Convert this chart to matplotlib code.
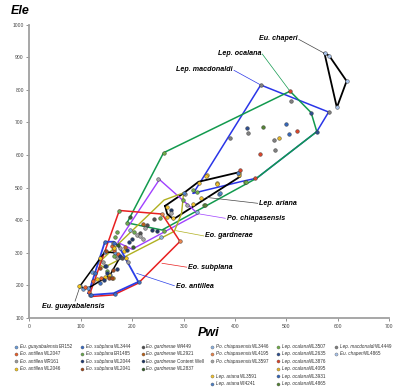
import matplotlib
matplotlib.use("Agg")
import matplotlib.pyplot as plt

plt.rcParams['font.family'] = ['Liberation Sans', 'DejaVu Sans']

# sample series (legend order)
series_species = ["Eu. guayabalensis", "Eo. antillea", "Eo. antillea", "Eo. antillea",
                  "Eo. subplana", "Eo. subplana", "Eo. subplana", "Eo. subplana",
                  "Eo. gardnerae", "Eo. gardnerae", "Eo. gardnerae", "Eo. gardnerae",
                  "Po. chiapasensis", "Po. chiapasensis", "Po. chiapasensis",
                  "Lep. ariana", "Lep. ariana",
                  "Lep. ocalana", "Lep. ocalana", "Lep. ocalana", "Lep. ocalana", "Lep. ocalana", "Lep. ocalana",
                  "Lep. macdonaldi", "Eu. chaperi"]
series_ids = ["ER152", "WL2047", "WR161", "WL2046",
              "WL3444", "ER1485", "WL2044", "WL2041",
              "W4449", "WL2921", "Content Well", "WL2837",
              "WL3446", "WL4195", "WL3597",
              "WL3591", "WI4241",
              "WL3507", "WL2635", "WL3876", "WL4095", "WL3931", "WL4865",
              "WL4449", "WL4865"]
series_colors = ["#6a9bd8", "#e8602c", "#9a9a9a", "#f5c518",
                 "#3a6cc4", "#6aa84f", "#1f3a73", "#a0481c",
                 "#505050", "#b8621b", "#203864", "#375f2b",
                 "#8db3e2", "#e9854d", "#a6a6a6",
                 "#f2c230", "#4f81c7",
                 "#70ad47", "#2e4f8f", "#d9452b", "#e4b52a", "#3566b8", "#548235",
                 "#7f7f7f", "#a9c4eb"]
series_pwi = [[99, 105, 115, 121, 147, 157, 167, 177],
              [108, 117, 124.5, 140, 160, 165, 173],
              [143, 170, 191, 176, 163.5],
              [97.5, 131, 137.5, 147, 154, 163.5, 164, 188, 184],
              [118, 119, 137.5, 128, 149, 167, 214, 147, 165],
              [175, 189.5, 167, 171, 203, 152, 165],
              [145, 152, 170, 176.5, 189, 193, 147],
              [137.5, 155, 160, 163.5, 150],
              [228, 180, 243, 215],
              [221, 186],
              [238, 248, 276, 199],
              [196, 173, 201],
              [256, 196, 326],
              [293, 258],
              [251, 222, 210, 216, 306, 275, 225, 303],
              [267, 280, 319, 329, 334, 345, 364, 344, 365, 407, 408],
              [369, 370, 405, 300],
              [261, 254, 261, 298, 319, 326, 420, 421, 340],
              [548, 559, 423],
              [507, 449, 410, 439, 520],
              [486, 267],
              [499, 504],
              [454, 342],
              [450, 509, 582, 425, 390, 475, 478],
              [574, 583, 617, 598]]
series_ele = [[199, 190, 192, 242, 303, 232, 300, 288],
              [196, 181, 214, 222, 321, 309, 296],
              [273, 283, 271, 314, 331],
              [198, 219, 283, 227, 232, 222, 316, 283, 306],
              [170, 171, 208, 237, 260, 174, 211, 334, 331],
              [429, 392, 349, 365, 365, 245, 290],
              [217, 237, 249, 290, 309, 334, 261],
              [252, 222, 222, 247, 306],
              [385, 283, 403, 362],
              [388, 319],
              [370, 368, 431, 341],
              [409, 324, 319],
              [348, 370, 426],
              [335, 419],
              [526, 342, 355, 352, 447, 423, 375, 480],
              [441, 406, 450, 515, 467, 539, 513, 536, 511, 539, 544],
              [480, 483, 546, 483],
              [607, 408, 367, 462, 493, 488, 518, 518, 447],
              [730, 672, 682],
              [796, 602, 553, 530, 674],
              [652, 409],
              [695, 664],
              [687, 447],
              [815, 766, 732, 669, 651, 646, 615],
              [912, 905, 827, 746]]

# species envelopes
hull_names = ["Eu. chaperi", "Lep. macdonaldi", "Lep. ocalana", "Lep. ariana", "Po. chiapasensis",
              "Eo. gardnerae", "Eo. subplana", "Eo. antillea", "Eu. guayabalensis"]
hull_colors = ["#000000", "#2a35e8", "#129a4e", "#000000", "#a040ff",
               "#b0b020", "#e82020", "#2a3fe8", "#000000"]
hull_pwi = [[574, 583, 617, 598],
            [319, 450, 582, 559, 442, 410],
            [190, 261, 507, 548, 559, 442, 258],
            [264, 300, 329, 407, 410, 280, 268],
            [253, 328, 200, 172],
            [134, 262, 300, 296, 282, 145],
            [118, 175, 258, 293, 212, 164, 121],
            [115, 147, 164, 174, 212, 164, 121],
            [99, 147, 167, 177, 157, 115, 105]]
hull_ele = [[912, 905, 827, 746],
            [483, 815, 732, 672, 529, 518],
            [392, 607, 796, 730, 672, 529, 370],
            [444, 483, 518, 547, 534, 403, 420],
            [525, 420, 311, 332],
            [268, 462, 484, 421, 366, 255],
            [176, 430, 419, 335, 207, 171, 166],
            [176, 334, 334, 320, 211, 176, 171],
            [199, 303, 300, 288, 232, 192, 190]]
hull_lw = [1.3, 1.1, 1.1, 1.3, 1.0, 1.0, 1.1, 1.3, 1.1]

# label text position, alignment, leader line
label_xy = [(521, 957), (396, 862), (451, 913), (447, 452), (384, 406),
            (342, 352), (309, 256), (285, 198), (85, 135)]
label_ha = ["right", "right", "right", "left", "left", "left", "left", "left", "center"]
leader_start = [(524, 955), (398, 860), (453, 910), (444, 452), (381, 406),
                (339, 352), (306, 256), (282, 199), (89, 152)]
leader_end = [(574, 912), (450, 815), (505, 800), (345, 470), (328, 420),
              (285, 368), (258, 268), (209, 237), (99, 199)]

fig = plt.figure(figsize=(4.0, 3.89), dpi=100)
ax = fig.add_axes([0.0733, 0.1825, 0.9, 0.754])

for i in range(len(hull_names)):
    xs = hull_pwi[i] + hull_pwi[i][:1]
    ys = hull_ele[i] + hull_ele[i][:1]
    ax.plot(xs, ys, color=hull_colors[i], lw=hull_lw[i], zorder=2, solid_joinstyle='miter')
    (x0, y0), (x1, y1) = leader_start[i], leader_end[i]
    ax.plot([x0, x1], [y0, y1], color=hull_colors[i] if hull_colors[i] != "#000000" else "#444444",
            lw=0.5, zorder=2)
    ax.text(label_xy[i][0], label_xy[i][1], hull_names[i], ha=label_ha[i], va='center',
            fontsize=5.1, fontweight='bold', fontstyle='italic', zorder=4)

for i in range(len(series_ids)):
    ax.scatter(series_pwi[i], series_ele[i], s=7, color=series_colors[i],
               edgecolors="#333333", linewidths=0.3, zorder=3)

ax.set_xlim(0, 700)
ax.set_ylim(100, 1000)
ax.set_xticks(range(0, 701, 100))
ax.set_yticks(range(100, 1001, 100))
for s in ['top', 'right']:
    ax.spines[s].set_visible(False)
for s in ['left', 'bottom']:
    ax.spines[s].set_color('#a0a0a0')
    ax.spines[s].set_linewidth(1.3)
ax.tick_params(axis='both', direction='out', length=2.5, width=0.6, color='#808080',
               labelsize=3.6, labelcolor='#444444', pad=1.5)
fig.text(0.027, 0.972, "Ele", fontsize=9, fontweight='bold', fontstyle='italic', va='center')
fig.text(0.522, 0.145, "Pwi", fontsize=9, fontweight='bold', fontstyle='italic',
         ha='center', va='center')

# legend block drawn in pixel coordinates
lg = fig.add_axes([0, 0, 1, 1], zorder=5)
lg.set_xlim(0, 400)
lg.set_ylim(389, 0)
lg.axis('off')
renderer = fig.canvas.get_renderer()
col_x = [16, 82, 143, 212, 278, 336]
col_rows = [[0, 1, 2, 3], [4, 5, 6, 7], [8, 9, 10, 11],
            [12, 13, 14, None, 15, 16], [17, 18, 19, 20, 21, 22], [23, 24]]
for c, rows in enumerate(col_rows):
    for r, k in enumerate(rows):
        if k is None:
            continue
        y = 346.5 + 7.4 * r
        lg.scatter([col_x[c]], [y], s=5, color=series_colors[k], edgecolors="#555555",
                   linewidths=0.25)
        t = lg.text(col_x[c] + 3.5, y, series_species[k], fontsize=3.3, fontstyle='italic',
                    va='center', color='#333333')
        w = t.get_window_extent(renderer).width
        lg.text(col_x[c] + 3.5 + w + 1.0, y, series_ids[k], fontsize=3.3,
                va='center', color='#333333')

fig.savefig("out.png", dpi=100)
